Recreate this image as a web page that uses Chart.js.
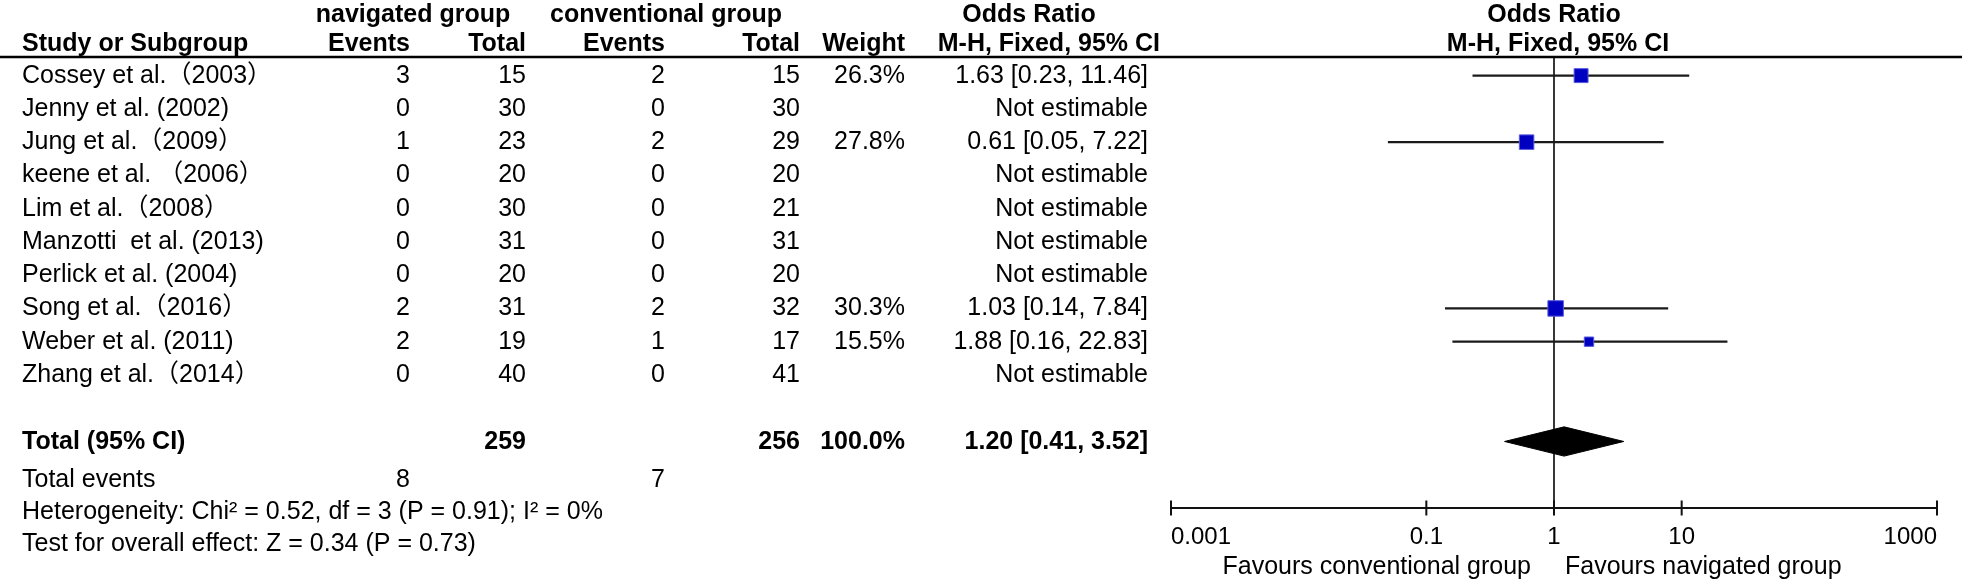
<!DOCTYPE html>
<html>
<head>
<meta charset="utf-8">
<script src="https://cdn.jsdelivr.net/npm/chart.js@4.4.0/dist/chart.umd.min.js"></script>
<style>
  html, body { margin: 0; padding: 0; background: #fff; }
  #wrap { width: 1965px; height: 580px; position: relative; }
</style>
</head>
<body>
<div id="wrap"><canvas id="forest"></canvas></div>
<script>
// data
const studies = ['Cossey et al.（2003）', 'Jenny et al. (2002)', 'Jung et al.（2009）', 'keene et al. （2006）',
  'Lim et al.（2008）', 'Manzotti  et al. (2013)', 'Perlick et al. (2004)', 'Song et al.（2016）',
  'Weber et al. (2011)', 'Zhang et al.（2014）'];
const navEvents = [3, 0, 1, 0, 0, 0, 0, 2, 2, 0];
const navTotal = [15, 30, 23, 20, 30, 31, 20, 31, 19, 40];
const convEvents = [2, 0, 2, 0, 0, 0, 0, 2, 1, 0];
const convTotal = [15, 30, 29, 20, 21, 31, 20, 32, 17, 41];
const weights = [26.3, null, 27.8, null, null, null, null, 30.3, 15.5, null];
const orEst = [1.63, null, 0.61, null, null, null, null, 1.03, 1.88, null];
const orLow = [0.23, null, 0.05, null, null, null, null, 0.14, 0.16, null];
const orHigh = [11.46, null, 7.22, null, null, null, null, 7.84, 22.83, null];
const totalOR = [1.20, 0.41, 3.52];   // estimate, low, high
const totalN = [259, 256];
const totalEvents = [8, 7];
const tickValues = [0.001, 0.1, 1, 10, 1000];

const FONT = '"Liberation Sans", Arial, "Noto Sans CJK SC", sans-serif';
const FS = 25;
const TOTAL_ROW = 11;
const Y_MIN = -0.56, Y_MAX = 13.0;

const fmt = v => v.toFixed(2);
const ciText = i => orEst[i] == null ? 'Not estimable' : `${fmt(orEst[i])} [${fmt(orLow[i])}, ${fmt(orHigh[i])}]`;

// datasets: squares first (drawn on top), then CI lines, the line of no effect and the diamond
const datasets = [];
const squares = [], sizes = [];
studies.forEach((s, i) => {
  if (orEst[i] != null) {
    squares.push({ x: orEst[i], y: i });
    // square side grows with the weight
    sizes.push(1.2 * Math.pow(weights[i], 0.75) / 1.414);
  }
});
datasets.push({
  type: 'scatter', data: squares, pointStyle: 'rect', pointRadius: sizes,
  backgroundColor: '#0000c0', borderColor: '#5a5ae0', borderWidth: 1, order: 0
});
studies.forEach((s, i) => {
  if (orEst[i] == null) return;
  datasets.push({
    type: 'line', data: [{ x: orLow[i], y: i }, { x: orHigh[i], y: i }],
    borderColor: '#1a1a1a', borderWidth: 2.2, pointRadius: 0, order: 1
  });
});
datasets.push({
  type: 'line', data: [{ x: 1, y: Y_MIN }, { x: 1, y: Y_MAX }],
  borderColor: '#222', borderWidth: 1.8, pointRadius: 0, order: 2
});
datasets.push({
  type: 'line',
  data: [{ x: totalOR[1], y: TOTAL_ROW }, { x: totalOR[0], y: TOTAL_ROW - 0.44 },
         { x: totalOR[2], y: TOTAL_ROW }, { x: totalOR[0], y: TOTAL_ROW + 0.44 },
         { x: totalOR[1], y: TOTAL_ROW }],
  borderColor: '#000', borderWidth: 1, backgroundColor: '#000', fill: 'shape',
  pointRadius: 0, tension: 0, order: 1
});

function txt(ctx, s, x, y, align, bold, size) {
  ctx.save();
  ctx.font = (bold ? 'bold ' : '') + (size || FS) + 'px ' + FONT;
  ctx.textBaseline = 'middle';
  ctx.fillStyle = '#000';
  ctx.textAlign = align;
  ctx.fillText(s, x, y);
  ctx.restore();
}

const tablePlugin = {
  id: 'table',
  afterDraw(chart) {
    const ctx = chart.ctx;
    const xs = chart.scales.x, ys = chart.scales.y;
    const L = 22;
    const cEv1 = 410, cTot1 = 526, cEv2 = 665, cTot2 = 800, cW = 905, cCI = 1148;
    const one = xs.getPixelForValue(1);

    // headers
    txt(ctx, 'navigated group', 413, 15, 'center', true);
    txt(ctx, 'conventional group', 666, 15, 'center', true);
    txt(ctx, 'Odds Ratio', 1029, 15, 'center', true);
    txt(ctx, 'Odds Ratio', one, 15, 'center', true);
    txt(ctx, 'Study or Subgroup', L, 44, 'left', true);
    txt(ctx, 'Events', cEv1, 44, 'right', true);
    txt(ctx, 'Total', cTot1, 44, 'right', true);
    txt(ctx, 'Events', cEv2, 44, 'right', true);
    txt(ctx, 'Total', cTot2, 44, 'right', true);
    txt(ctx, 'Weight', cW, 44, 'right', true);
    txt(ctx, 'M-H, Fixed, 95% CI', 1160, 44, 'right', true);
    txt(ctx, 'M-H, Fixed, 95% CI', one + 4, 44, 'center', true);

    ctx.save();
    ctx.strokeStyle = '#000';
    ctx.lineWidth = 2.5;
    ctx.beginPath();
    ctx.moveTo(0, ys.getPixelForValue(Y_MIN)); ctx.lineTo(1962, ys.getPixelForValue(Y_MIN));
    ctx.stroke();
    ctx.restore();

    // study rows
    studies.forEach((s, i) => {
      const y = ys.getPixelForValue(i);
      txt(ctx, s, L, y, 'left');
      txt(ctx, String(navEvents[i]), cEv1, y, 'right');
      txt(ctx, String(navTotal[i]), cTot1, y, 'right');
      txt(ctx, String(convEvents[i]), cEv2, y, 'right');
      txt(ctx, String(convTotal[i]), cTot2, y, 'right');
      if (weights[i] != null) txt(ctx, weights[i].toFixed(1) + '%', cW, y, 'right');
      txt(ctx, ciText(i), cCI, y, 'right');
    });

    // totals
    const ty = ys.getPixelForValue(TOTAL_ROW) + 1;
    txt(ctx, 'Total (95% CI)', L, ty, 'left', true);
    txt(ctx, String(totalN[0]), cTot1, ty, 'right', true);
    txt(ctx, String(totalN[1]), cTot2, ty, 'right', true);
    txt(ctx, '100.0%', cW, ty, 'right', true);
    txt(ctx, `${fmt(totalOR[0])} [${fmt(totalOR[1])}, ${fmt(totalOR[2])}]`, cCI, ty, 'right', true);
    txt(ctx, 'Total events', L, 480, 'left');
    txt(ctx, String(totalEvents[0]), cEv1, 480, 'right');
    txt(ctx, String(totalEvents[1]), cEv2, 480, 'right');
    txt(ctx, 'Heterogeneity: Chi² = 0.52, df = 3 (P = 0.91); I² = 0%', L, 512, 'left');
    txt(ctx, 'Test for overall effect: Z = 0.34 (P = 0.73)', L, 544, 'left');

    // x axis
    const ay = ys.getPixelForValue(Y_MAX);
    const x0 = xs.getPixelForValue(tickValues[0]);
    const x1 = xs.getPixelForValue(tickValues[tickValues.length - 1]);
    ctx.save();
    ctx.strokeStyle = '#111';
    ctx.lineWidth = 2;
    ctx.beginPath();
    ctx.moveTo(x0, ay); ctx.lineTo(x1, ay);
    tickValues.forEach(v => {
      const px = xs.getPixelForValue(v);
      ctx.moveTo(px, ay - 7.5); ctx.lineTo(px, ay + 7.5);
    });
    ctx.stroke();
    ctx.restore();
    tickValues.forEach((v, k) => {
      const px = xs.getPixelForValue(v);
      const align = k === 0 ? 'left' : (k === tickValues.length - 1 ? 'right' : 'center');
      txt(ctx, String(v), px, ay + 29, align, false, 24);
    });
    txt(ctx, 'Favours conventional group', one - 23, 567, 'right');
    txt(ctx, 'Favours navigated group', one + 11, 567, 'left');
  }
};

new Chart('forest', {
  type: 'scatter',
  data: { datasets },
  options: {
    responsive: true,
    maintainAspectRatio: false,
    animation: false,
    layout: { padding: { left: 1171, right: 28, top: 57, bottom: 72 } },
    plugins: { legend: { display: false }, tooltip: { enabled: false } },
    scales: {
      x: { type: 'logarithmic', min: 0.001, max: 1000, display: false },
      y: { type: 'linear', min: Y_MIN, max: Y_MAX, reverse: true, display: false }
    }
  },
  plugins: [tablePlugin]
});
</script>
</body>
</html>
